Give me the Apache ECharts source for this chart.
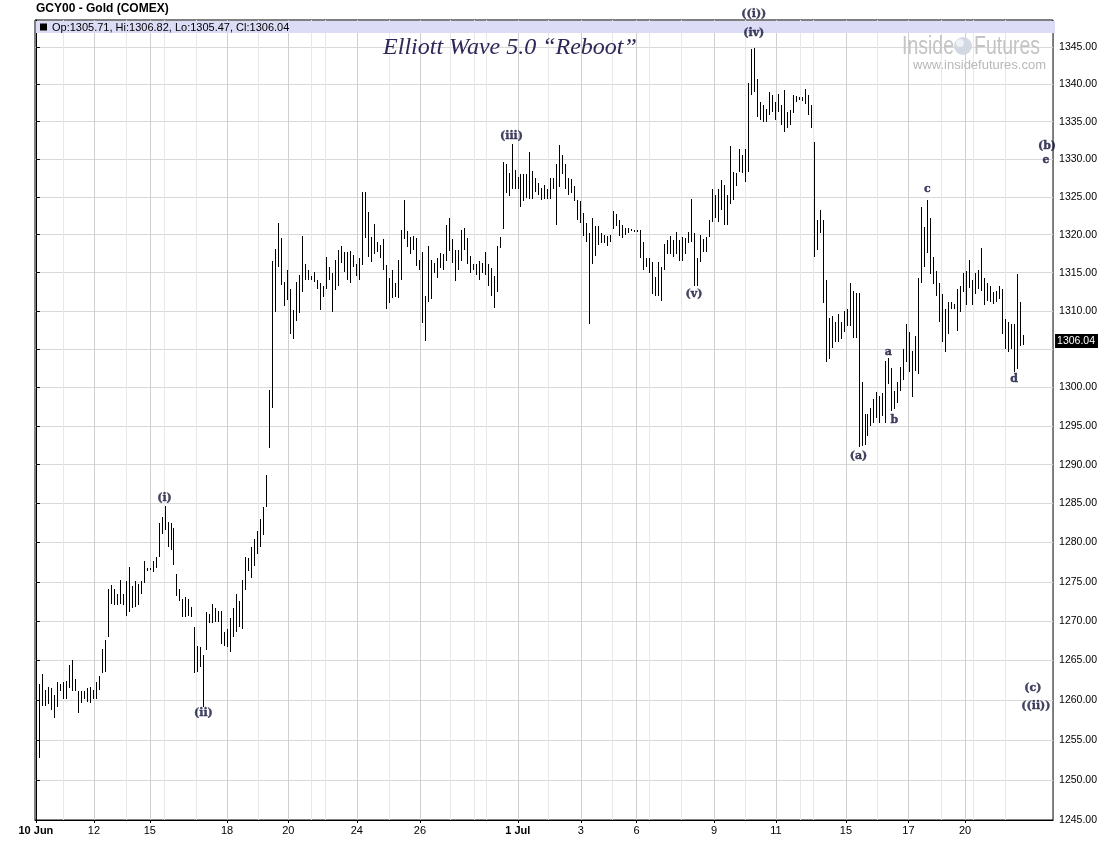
<!DOCTYPE html>
<html><head><meta charset="utf-8">
<script src="https://cdn.jsdelivr.net/npm/echarts@6/dist/echarts.min.js"></script>
<style>html,body{margin:0;padding:0;background:#fff}#c{width:1100px;height:861px}</style>
</head><body><div id="c"></div>
<script>
// ---- data: bar highs / lows (GCY00 intraday bars, 10 Jun - 22 Jul) ----
const hi = [
1253.8,1262.0,1263.3,1261.3,1261.6,1261.5,1260.6,1262.3,1262.0,1262.3,
1262.4,1264.4,1265.1,1262.7,1261.2,1261.1,1261.1,1261.5,1261.7,1261.3,
1262.3,1263.0,1266.5,1267.6,1274.1,1274.6,1274.1,1273.5,1275.2,1273.4,
1275.1,1276.9,1274.5,1275.1,1274.7,1275.1,1277.7,1276.8,1276.8,1277.6,
1278.1,1282.5,1283.3,1284.7,1282.6,1282.5,1281.9,1276.0,1274.1,1272.8,
1273.0,1272.8,1271.8,1269.2,1266.8,1266.7,1265.7,1271.1,1270.9,1272.2,
1271.6,1271.3,1271.3,1268.6,1269.0,1270.4,1271.6,1273.4,1272.5,1275.2,
1278.1,1278.0,1279.5,1280.5,1281.5,1283.0,1284.5,1288.7,1299.7,1316.6,
1318.1,1321.5,1319.5,1313.8,1315.3,1312.8,1310.1,1313.8,1314.7,1319.8,
1316.1,1315.3,1314.6,1315.1,1314.1,1313.6,1313.3,1317.0,1315.8,1314.9,
1316.7,1318.0,1318.5,1317.7,1317.7,1317.9,1317.3,1316.2,1316.9,1325.6,
1325.7,1323.0,1319.7,1321.4,1319.1,1318.7,1319.4,1316.0,1314.3,1315.3,
1313.7,1316.7,1320.6,1324.6,1320.5,1319.7,1319.8,1319.5,1316.7,1317.7,
1311.9,1318.5,1316.7,1316.3,1316.9,1317.6,1317.4,1321.3,1322.2,1319.4,
1318.0,1318.0,1320.6,1320.9,1319.6,1317.2,1316.2,1316.1,1316.5,1316.3,
1317.7,1316.1,1315.6,1314.5,1318.5,1319.7,1329.6,1329.3,1328.2,1332.0,
1328.5,1327.7,1328.0,1328.0,1328.0,1330.9,1328.4,1327.5,1326.9,1326.2,
1326.6,1326.1,1327.5,1327.5,1329.3,1331.9,1330.5,1329.3,1327.5,1327.4,
1326.4,1324.6,1324.4,1322.9,1321.6,1320.2,1322.2,1321.1,1321.1,1320.2,
1320.0,1319.8,1320.0,1323.1,1322.7,1322.0,1321.3,1320.9,1320.9,1320.7,
1320.6,1320.6,1320.6,1319.1,1316.9,1316.9,1316.4,1314.4,1316.4,1315.7,
1318.8,1319.3,1319.8,1319.3,1320.3,1319.3,1319.7,1319.5,1320.4,1324.7,
1320.2,1316.9,1320.0,1319.4,1319.7,1321.9,1326.1,1325.2,1326.1,1327.2,
1326.6,1325.2,1331.7,1328.3,1328.1,1331.4,1330.5,1331.4,1340.1,1344.7,
1344.9,1340.7,1337.6,1337.2,1336.7,1338.9,1338.5,1337.6,1338.7,1337.2,
1339.2,1336.3,1336.5,1338.5,1338.4,1338.3,1338.3,1339.3,1338.5,1337.2,
1332.3,1322.0,1323.3,1322.0,1314.0,1309.1,1309.3,1308.5,1309.6,1308.5,
1310.0,1310.2,1313.7,1312.6,1312.3,1312.3,1300.7,1296.5,1296.5,1297.3,
1298.5,1299.4,1298.9,1299.3,1303.5,1303.8,1302.5,1299.6,1300.7,1302.6,
1305.0,1308.3,1307.2,1304.8,1306.7,1314.3,1323.7,1321.0,1324.6,1322.2,
1317.0,1315.2,1313.7,1312.2,1310.2,1311.1,1311.1,1310.9,1312.8,1313.3,
1315.0,1315.2,1316.7,1314.1,1315.0,1315.4,1318.3,1314.3,1313.7,1313.3,
1312.4,1312.6,1313.3,1312.8,1308.9,1308.5,1308.3,1308.3,1314.8,1311.1,
1306.82
];
const lo = [
1251.8,1252.8,1259.3,1259.3,1259.5,1258.7,1257.7,1259.2,1261.2,1260.2,
1260.2,1261.5,1261.2,1261.1,1258.4,1259.6,1260.1,1259.8,1259.7,1260.1,
1260.1,1261.3,1263.4,1263.6,1268.0,1272.2,1272.0,1272.0,1272.2,1272.0,
1270.7,1271.1,1271.6,1271.8,1272.1,1273.5,1274.9,1276.4,1276.5,1276.2,
1276.8,1278.2,1281.1,1281.6,1279.4,1279.0,1277.1,1273.2,1272.6,1270.5,
1270.5,1270.7,1270.5,1263.4,1263.6,1264.2,1259.2,1266.3,1269.7,1269.7,
1269.9,1269.9,1267.1,1266.9,1266.7,1266.1,1268.0,1268.6,1269.2,1269.0,
1273.9,1276.4,1275.5,1277.0,1278.5,1279.5,1281.0,1284.5,1292.1,1297.3,
1309.8,1315.8,1313.4,1310.6,1311.4,1306.9,1306.3,1308.6,1309.7,1312.4,
1314.1,1314.1,1314.1,1313.8,1312.8,1310.1,1311.8,1312.8,1314.0,1309.9,
1312.7,1313.2,1316.3,1315.1,1314.1,1313.7,1315.7,1314.5,1314.0,1316.0,
1319.5,1317.1,1316.4,1317.4,1317.7,1316.9,1315.3,1310.2,1311.0,1311.7,
1311.8,1311.7,1314.1,1319.4,1318.4,1317.5,1318.0,1315.9,1315.3,1308.4,
1306.1,1311.2,1311.6,1315.0,1314.3,1315.6,1315.4,1316.5,1317.8,1316.3,
1313.9,1315.4,1316.5,1318.0,1316.1,1315.0,1315.3,1314.7,1314.1,1315.0,
1314.7,1313.2,1311.9,1310.3,1312.5,1318.3,1320.7,1325.5,1325.1,1326.0,
1326.0,1326.0,1323.7,1324.4,1324.9,1324.7,1324.7,1325.7,1325.3,1324.6,
1324.7,1324.7,1324.7,1326.0,1321.3,1326.3,1328.0,1326.0,1325.3,1325.5,
1324.4,1322.0,1321.6,1319.8,1319.1,1308.3,1316.1,1317.2,1318.7,1318.9,
1318.9,1318.5,1319.0,1320.7,1321.1,1319.8,1319.6,1320.0,1320.2,1320.5,
1320.4,1320.4,1316.9,1315.3,1315.8,1314.9,1312.2,1312.0,1312.0,1311.3,
1315.3,1317.5,1317.5,1317.1,1317.5,1316.6,1316.5,1317.5,1318.9,1319.1,
1313.2,1313.2,1316.4,1317.7,1317.7,1319.7,1321.7,1322.2,1321.7,1323.3,
1321.3,1321.3,1324.1,1324.6,1326.4,1328.3,1328.1,1327.0,1328.3,1338.5,
1338.9,1335.6,1335.2,1335.0,1335.0,1335.9,1336.3,1335.2,1336.3,1334.5,
1333.6,1334.1,1334.5,1336.1,1337.6,1337.9,1337.8,1337.4,1335.9,1334.2,
1317.1,1318.0,1320.2,1311.0,1303.3,1303.7,1305.2,1305.9,1305.9,1306.3,
1307.2,1308.0,1308.0,1306.5,1306.5,1292.3,1292.4,1292.5,1293.7,1295.0,
1295.4,1296.1,1295.4,1296.3,1295.4,1300.4,1297.0,1297.2,1298.0,1299.6,
1301.0,1303.3,1302.0,1298.7,1302.2,1301.7,1313.7,1315.7,1317.6,1314.8,
1313.5,1312.0,1308.5,1305.9,1304.6,1307.0,1310.2,1310.2,1307.4,1309.8,
1312.4,1310.7,1313.0,1310.7,1312.2,1312.8,1312.6,1310.7,1311.3,1311.1,
1310.9,1311.1,1311.5,1307.0,1305.0,1304.6,1305.0,1302.0,1302.4,1305.4,
1305.47
];
const lastBar = {op: 1305.71, hi: 1306.82, lo: 1305.47, cl: 1306.04};

// session starts (bar index where each trading day begins) and whether it is labelled
const dayNames  = ['10 Jun','11','12','13','15','16','17','18','19','20','22','23','24','25','26','27','29','30',
                   '1 Jul','2','3','4','6','7','8','9','10','11','13','14','15','16','17','18','20','21','22'];
const dayStarts = [0,9.2,19.4,30.2,38.1,42.8,53.6,63.9,74.4,84.4,92.1,96.8,107.3,118.1,128.4,138.6,146.4,150.6,
                   161.1,171.4,182.2,192.8,200.8,205.2,215.9,226.7,237.2,247.4,255.6,260,270.8,281.1,291.7,302.6,310.6,313.3,324.1];
const dayLabeled = [1,0,1,0,1,0,0,1,0,1,0,0,1,0,1,0,0,0,
                    1,0,1,0,1,0,0,1,0,1,0,0,1,0,1,0,1,0,0];
const priceTicks = [];
for (let v = 1245; v <= 1345; v += 5) priceTicks.push(v);

// Elliott wave annotations attached to bars
const waves = [
  {t:'(i)',   bar:43,  side:'top'},
  {t:'(ii)',  bar:56,  side:'bottom'},
  {t:'(iii)', bar:159, side:'top'},
  {t:'(iv)',  bar:240, side:'top'},
  {t:'((i))', bar:240, side:'top'},
  {t:'(v)',   bar:220, side:'bottom'},
  {t:'(a)',   bar:275, side:'bottom'},
  {t:'a',     bar:285, side:'top'},
  {t:'b',     bar:287, side:'bottom'},
  {t:'c',     bar:298, side:'top'},
  {t:'d',     bar:327, side:'bottom'}
];
// projected labels at the right edge (bar position, price)
const projections = [
  {t:'(b)', bar:338.0, price:1331.8},
  {t:'e',   bar:337.7, price:1329.9},
  {t:'(c)', bar:333.3, price:1261.5},
  {t:'((ii))', bar:334.3, price:1259.25}
];
// label gaps (style)
const waveGap = {'(i)':2,'(ii)':1,'(iii)':3,'(iv)':9,'((i))':28,'(v)':2,'(a)':4,'a':1,'b':6,'c':5,'d':2};

// ---- chart ----
const L = Math.log;
const FONT = "'Liberation Sans', Arial, sans-serif";
const WAVEFONT = "'DejaVu Serif', serif";
const WAVECOL = '#12123a';
const X_MIN = -0.3, X_MAX = 340.03;

const labeledStarts = dayStarts.filter((d, k) => dayLabeled[k]);
const otherStarts = dayStarts.filter((d, k) => !dayLabeled[k]);

const waveData = waves.map(w => {
  const p = w.side === 'top' ? hi[w.bar] : lo[w.bar];
  return {
    value: [w.bar, L(p)],
    label: {position: w.side, distance: waveGap[w.t], formatter: w.t}
  };
});
const projData = projections.map(p => ({
  value: [p.bar, L(p.price)],
  label: {position: 'inside', formatter: p.t}
}));

const chart = echarts.init(document.getElementById('c'), null, {renderer: 'canvas'});
chart.setOption({
  animation: false,
  backgroundColor: '#fff',
  grid: {left: 35, right: 44, top: 20, bottom: 41, show: true, borderColor: '#000', borderWidth: 1, backgroundColor: 'transparent'},
  xAxis: [{
    type: 'value', min: X_MIN, max: X_MAX, position: 'bottom',
    axisLine: {show: true, lineStyle: {color: '#000', width: 1}},
    axisTick: {show: true, length: 3, lineStyle: {color: '#000'}, customValues: labeledStarts},
    axisLabel: {
      show: true, customValues: labeledStarts, margin: 5,
      fontFamily: FONT, fontSize: 11, color: '#000',
      formatter: v => {
        const k = dayStarts.findIndex(d => Math.abs(d - v) < 1e-6);
        if (k < 0) return '';
        const n = dayNames[k];
        return n.indexOf(' ') > 0 ? '{m|' + n + '}' : n;
      },
      rich: {m: {fontFamily: FONT, fontSize: 11, fontWeight: 'bold', color: '#000'}}
    },
    splitLine: {show: true, lineStyle: {color: '#cfcfcf', width: 1}}
  }, {
    type: 'value', min: X_MIN, max: X_MAX, position: 'bottom',
    axisLine: {show: false},
    axisTick: {show: false, customValues: otherStarts},
    axisLabel: {show: false, customValues: otherStarts},
    splitLine: {show: true, lineStyle: {color: '#e8e8e8', width: 1}}
  }],
  yAxis: {
    type: 'value', position: 'right', min: L(1245), max: L(1348.63),
    axisLine: {show: true, lineStyle: {color: '#000', width: 1}},
    axisTick: {show: true, inside: false, length: 4, lineStyle: {color: '#000'}, customValues: priceTicks.map(L)},
    axisLabel: {
      show: true, customValues: priceTicks.map(L), margin: 6,
      fontFamily: FONT, fontSize: 10.5, color: '#000',
      // the last-price tag hides the tick label it overlaps
      formatter: v => {
        const p = Math.round(Math.exp(v));
        return Math.abs(p - lastBar.cl) < 2.5 ? '' : p.toFixed(2);
      }
    },
    splitLine: {show: true, lineStyle: {color: '#d9d9d9', width: 1}}
  },
  graphic: [
    {type: 'rect', z: 1, shape: {x: 36, y: 21, width: 1019, height: 12}, style: {fill: '#dcdcf6'}},
    {type: 'rect', z: 2, shape: {x: 40, y: 23.5, width: 7, height: 7}, style: {fill: '#000'}},
    {type: 'text', z: 2, x: 52, y: 27.5, style: {
      text: 'Op:' + lastBar.op.toFixed(2) + ', Hi:' + lastBar.hi.toFixed(2) + ', Lo:' + lastBar.lo.toFixed(2) + ', Cl:' + lastBar.cl.toFixed(2),
      font: '11px ' + FONT, fill: '#000', verticalAlign: 'middle'}},
    {type: 'text', z: 2, x: 36, y: 9, style: {text: 'GCY00 - Gold (COMEX)', font: 'bold 12px ' + FONT, fill: '#000', verticalAlign: 'middle'}},
    {type: 'text', z: 2, x: 510, y: 48, style: {text: 'Elliott Wave 5.0 \u201cReboot\u201d', font: 'italic 24px "Liberation Serif", serif', fill: '#2d2857', align: 'center', verticalAlign: 'middle'}},
    {type: 'text', z: 1, x: 902, y: 47, scaleX: 0.75, style: {text: 'Inside', font: '26px ' + FONT, fill: '#c4c4c4', verticalAlign: 'middle'}},
    {type: 'circle', z: 1, shape: {cx: 963, cy: 46, r: 9}, style: {fill: '#d3d9e3'}},
    {type: 'circle', z: 1, shape: {cx: 960, cy: 43, r: 4}, style: {fill: '#eef1f6'}},
    {type: 'text', z: 1, x: 974, y: 47, scaleX: 0.75, style: {text: 'Futures', font: '26px ' + FONT, fill: '#c4c4c4', verticalAlign: 'middle'}},
    {type: 'text', z: 1, x: 1046, y: 65, style: {text: 'www.insidefutures.com', font: '13px ' + FONT, fill: '#b8b8b8', align: 'right', verticalAlign: 'middle'}}
  ],
  series: [{
    type: 'custom',
    xAxisIndex: 0, yAxisIndex: 0,
    clip: true,
    renderItem: (params, api) => {
      const x = api.value(0);
      const a = api.coord([x, api.value(1)]);
      const b = api.coord([x, api.value(2)]);
      const px = Math.round(a[0]) + 0.5;
      const y1 = Math.round(a[1]);
      let y2 = Math.round(b[1]);
      if (y2 - y1 < 1) y2 = y1 + 1;
      return {type: 'line', shape: {x1: px, y1: y1, x2: px, y2: y2}, style: {stroke: '#000', lineWidth: 1}};
    },
    encode: {x: 0, y: [1, 2]},
    data: hi.map((h, i) => [i, L(h), L(lo[i])])
  }, {
    type: 'scatter', xAxisIndex: 0, yAxisIndex: 0, clip: false,
    symbolSize: 0, silent: true, z: 5,
    label: {show: true, color: WAVECOL, fontFamily: WAVEFONT, fontWeight: 'bold', fontSize: 11,
            textBorderColor: WAVECOL, textBorderWidth: 0.4},
    data: waveData.concat(projData)
  }, {
    type: 'line', xAxisIndex: 0, yAxisIndex: 0, silent: true, z: 6,
    data: [],
    markLine: {
      silent: true, symbol: ['none', 'none'], animation: false, precision: 10,
      lineStyle: {color: 'rgba(0,0,0,0)', width: 1, type: 'solid'},
      label: {show: true, position: 'end', distance: 2, formatter: String(lastBar.cl.toFixed(2)), backgroundColor: '#000', color: '#fff',
              padding: [2, 3, 1, 2], fontFamily: FONT, fontSize: 10.5, fontWeight: 'normal'},
      data: [{yAxis: L(lastBar.cl)}]
    }
  }]
});
</script></body></html>
